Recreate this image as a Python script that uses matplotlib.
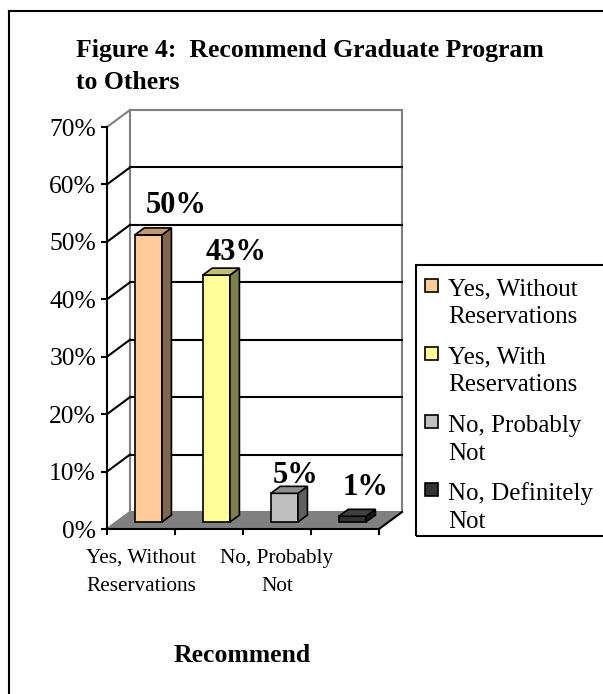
import matplotlib
matplotlib.use('Agg')
import matplotlib.pyplot as plt
from matplotlib.patches import Rectangle
from matplotlib.lines import Line2D

# Data
categories = ['Yes, Without\nReservations', 'Yes, With\nReservations',
              'No, Probably\nNot', 'No, Definitely\nNot']
values = [50, 43, 5, 1]
value_labels = ['50%', '43%', '5%', '1%']
y_ticks = [0, 10, 20, 30, 40, 50, 60, 70]
y_tick_labels = ['0%', '10%', '20%', '30%', '40%', '50%', '60%', '70%']
shown_cats = [0, 2]  # Excel only printed every other category label

title = 'Figure 4:  Recommend Graduate Program\nto Others'
x_title = 'Recommend'

# Colours (front, side, top of each 3D bar)
front_colors = ['#FFCC99', '#FFFF99', '#C0C0C0', '#333333']
side_colors = ['#80664C', '#80804C', '#606060', '#1A1A1A']
top_colors = ['#C09973', '#C0C073', '#909090', '#404040']

# Label nudges (category units / percent)
lab_dx = [0.515, 0.397, 0.279, 0.30]
lab_dy = [5.0, 3.8, 3.0, 4.9]

plt.rcParams['font.family'] = ['Liberation Serif', 'DejaVu Serif']

W, H = 603, 694
fig = plt.figure(figsize=(W / 100, H / 100), dpi=100)


def fig_xy(x, y):
    # pixel position (from top-left) -> figure fraction
    return x / W, 1 - y / H


# front plane of the 3D plot: x 107..379 px, y 529 (0%) .. 127 (70%)
ax = fig.add_axes([107 / W, 1 - 529 / H, (379 - 107) / W, (529 - 127) / H])
ax.set_xlim(-0.5, 3.5)
ax.set_ylim(0, 70)
ax.patch.set_visible(False)

# depth of the 3D box in data units
DX = 23 / 68
DY = 17 / (402 / 70)

# back wall
ax.add_patch(Rectangle((-0.5 + DX, DY), 4, 70, fc='white', ec='#808080',
                       lw=1.5, clip_on=False, zorder=0.5))
# gridlines on the back wall + the side wall diagonals
for t in y_ticks:
    col = '#808080' if t in (0, 70) else 'black'
    if 0 < t < 70:
        ax.plot([-0.5 + DX, 3.5 + DX], [t + DY, t + DY], color='black',
                lw=1.5, clip_on=False, zorder=1)
    ax.plot([-0.5, -0.5 + DX], [t, t + DY], color=col, lw=1.5,
            clip_on=False, zorder=1)

# floor
ax.fill([-0.5, 3.5, 3.5 + DX, -0.5 + DX], [0, 0, DY, DY], color='#808080',
        clip_on=False, zorder=1.5)
ax.plot([3.5, 3.5 + DX], [0, DY], color='black', lw=1.5, clip_on=False,
        zorder=1.6)

# 3D bars: front face through ax.bar, side and top faces as fills
d1, d2 = 0.41, 0.82
bw = 0.4
xs = [i - 0.03 for i in range(len(values))]
ax.bar([x + d1 * DX for x in xs], values, width=bw, bottom=d1 * DY,
       color=front_colors, edgecolor='black', lw=1.2, zorder=3)
for x, v, sc, tc in zip(xs, values, side_colors, top_colors):
    r = x + bw / 2
    l = x - bw / 2
    ax.fill([r + d1 * DX, r + d2 * DX, r + d2 * DX, r + d1 * DX],
            [d1 * DY, d2 * DY, v + d2 * DY, v + d1 * DY],
            fc=sc, ec='black', lw=1.2, zorder=3)
    ax.fill([l + d1 * DX, r + d1 * DX, r + d2 * DX, l + d2 * DX],
            [v + d1 * DY, v + d1 * DY, v + d2 * DY, v + d2 * DY],
            fc=tc, ec='black', lw=1.2, zorder=3)

# value labels
for i, (v, lab) in enumerate(zip(values, value_labels)):
    ax.text(i + lab_dx[i], v + lab_dy[i], lab, ha='center', va='baseline',
            fontsize=22, fontweight='bold', zorder=4)

# axes
for s in ['top', 'right']:
    ax.spines[s].set_visible(False)
for s in ['left', 'bottom']:
    ax.spines[s].set_linewidth(1.5)
    ax.spines[s].set_zorder(2)
ax.set_yticks(y_ticks, labels=y_tick_labels)
ax.set_xticks([-0.5, 0.5, 1.5, 2.5, 3.5], labels=[])
ax.tick_params(axis='both', direction='out', length=4.3, width=1.5)
ax.tick_params(axis='y', labelsize=18.4, pad=3.6)

# category labels below the axis
for i in shown_cats:
    for k, line in enumerate(categories[i].split('\n')):
        ax.annotate(line, xy=(i, 0), xytext=(0, -(34 + 28 * k)),
                    textcoords='offset pixels', ha='center', va='baseline',
                    fontsize=15.3, annotation_clip=False)

# titles
for k, line in enumerate(title.split('\n')):
    fig.text(*fig_xy(76, 57 + 32 * k), line, fontsize=18.5,
             fontweight='bold', ha='left', va='baseline')
fig.text(*fig_xy(242, 662), x_title, fontsize=18.5, fontweight='bold',
         ha='center', va='baseline')

# legend drawn by hand (markers sit on the first text line, like Excel);
# its right edge runs off the cropped picture
fig.add_artist(Rectangle(fig_xy(416, 536), (620 - 416) / W, (536 - 265) / H,
                         transform=fig.transFigure, fill=False, ec='black',
                         lw=1.5))
for i, cat in enumerate(categories):
    base = 295 + 68.3 * i
    fig.add_artist(Rectangle(fig_xy(425, base - 3.5), 13 / W, 13 / H,
                             transform=fig.transFigure, fc=front_colors[i],
                             ec='black', lw=1.2))
    for k, line in enumerate(cat.split('\n')):
        fig.text(*fig_xy(448, base + 28 * k), line, fontsize=18,
                 ha='left', va='baseline')

# outer frame (left and top edges visible in the crop)
fig.add_artist(Line2D([9 / W, 9 / W], [0, 1 - 11 / H], color='black', lw=1.5,
                      transform=fig.transFigure))
fig.add_artist(Line2D([9 / W, 1], [1 - 11 / H, 1 - 11 / H], color='black',
                      lw=1.5, transform=fig.transFigure))

fig.savefig('out.png', dpi=100)
